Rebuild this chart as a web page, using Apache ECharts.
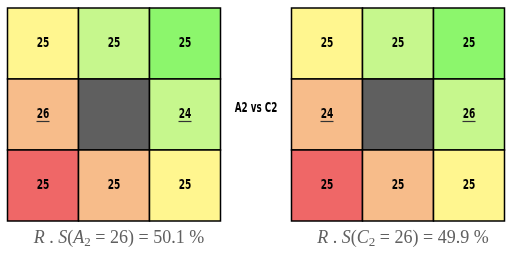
<!DOCTYPE html>
<html><head><meta charset="utf-8">
<script src="https://cdn.jsdelivr.net/npm/echarts@6/dist/echarts.min.js"></script>
<style>html,body{margin:0;padding:0;background:#fff}#c{width:517px;height:253px}</style>
</head><body><div id="c"></div>
<script>
const cols = ['c0','c1','c2'];
const rows = ['r0','r1','r2'];
// values per row (top to bottom), null = empty (dark) cell
const valuesA2 = [[25,25,25],[26,null,24],[25,25,25]];
const valuesC2 = [[25,25,25],[24,null,26],[25,25,25]];
// highlighted (underlined) cells [row, col]
const underlined = [[1,0],[1,2]];
const cellColors = [
  ['#fff68f','#c6f78d','#8cf66c'],
  ['#f7bc8a','#5f5f5f','#c6f78d'],
  ['#ef6767','#f7bc8a','#fff68f']
];
const centerText = 'A2 vs C2';
const leftCaption = {v:'A', n:'26', p:'50.1'};
const rightCaption = {v:'C', n:'26', p:'49.9'};

const numFont = 'bold 14px "DejaVu Sans Condensed", "DejaVu Sans", sans-serif';
function toData(vals){
  const d=[];
  for(let r=0;r<3;r++)for(let c=0;c<3;c++)d.push([c,r,vals[r][c]]);
  return d;
}
function isUl(r,c){return underlined.some(u=>u[0]===r&&u[1]===c);}
function renderItem(params, api){
  const c=api.value(0), r=api.value(1), v=api.value(2);
  const p=api.coord([c,r]); const s=api.size([1,1]);
  const hasV = !(v==null||isNaN(v));
  const children=[{type:'rect',shape:{x:p[0]-s[0]/2,y:p[1]-s[1]/2,width:s[0],height:s[1]},
    style:{fill:cellColors[r][c],stroke:'#000',lineWidth:1.5}}];
  if(hasV){
    children.push({type:'text',x:p[0],y:p[1],scaleX:0.72,
      style:{text:String(v),fill:'#000',font:numFont,align:'center',verticalAlign:'middle'}});
    if(isUl(r,c)) children.push({type:'line',shape:{x1:p[0]-6.5,y1:p[1]+7,x2:p[0]+6.5,y2:p[1]+7},
      style:{stroke:'#333',lineWidth:1.2}});
  }
  return {type:'group',children:children};
}
function caption(o){
  return '{i|R}{n| . }{i|S}{n|(}{i|'+o.v+'}{s|2}{n| = '+o.n+') = '+o.p+' %}';
}
const capRich = {
  i:{fontFamily:'Liberation Serif',fontStyle:'italic',fontWeight:'normal',fontSize:18,color:'#606060'},
  n:{fontFamily:'Liberation Serif',fontWeight:'normal',fontSize:18,color:'#606060'},
  s:{fontFamily:'Liberation Serif',fontWeight:'normal',fontSize:13,color:'#606060',padding:[8,0,0,0]}
};
const chart=echarts.init(document.getElementById('c'),null,{renderer:'canvas'});
const ax = (i,data,inv)=>({gridIndex:i,type:'category',data:data,inverse:inv,show:false});
chart.setOption({
  animation:false,
  grid:[{left:7.5,top:8,width:213,height:213},{left:291.5,top:8,width:213,height:213}],
  xAxis:[ax(0,cols,false),ax(1,cols,false)],
  yAxis:[ax(0,rows,true),ax(1,rows,true)],
  title:[
    {text:caption(leftCaption),left:114,top:223,textAlign:'center',textStyle:{fontWeight:'normal',rich:capRich}},
    {text:caption(rightCaption),left:398,top:223,textAlign:'center',textStyle:{fontWeight:'normal',rich:capRich}}
  ],
  graphic:[{type:'text',x:256,y:108,scaleX:0.7,
    style:{text:centerText,font:numFont,fill:'#000',align:'center',verticalAlign:'middle'}}],
  series:[
    {type:'custom',xAxisIndex:0,yAxisIndex:0,renderItem:renderItem,data:toData(valuesA2)},
    {type:'custom',xAxisIndex:1,yAxisIndex:1,renderItem:renderItem,data:toData(valuesC2)}
  ]
});
</script></body></html>
